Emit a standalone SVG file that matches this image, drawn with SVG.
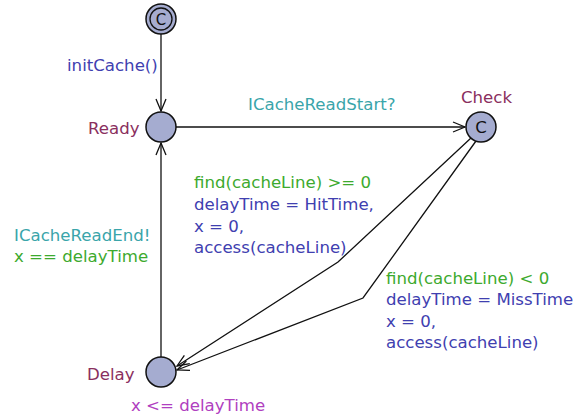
<svg xmlns="http://www.w3.org/2000/svg" width="581" height="415" viewBox="0 0 581 415">
<style>
text{font-family:"DejaVu Sans","Liberation Sans",sans-serif;font-size:16.6px}
.loc{fill:#a5acd0;stroke:#111;stroke-width:1.5}
.name{fill:#8a2f5e}
.guard{fill:#3daa2e}
.upd{fill:#4040b0}
.sync{fill:#3aa5aa}
.inv{fill:#b040c0}
.edge{fill:none;stroke:#111;stroke-width:1.3}
</style>
<defs>
<marker id="arr" viewBox="0 0 14 12" refX="13" refY="6" markerWidth="14" markerHeight="12" markerUnits="userSpaceOnUse" orient="auto">
<path d="M1,1 L13,6 L1,11" fill="none" stroke="#111" stroke-width="1.3"/>
</marker>
</defs>
<g id="connectors">
<line class="edge" x1="161" y1="34" x2="161" y2="111" marker-end="url(#arr)"/>
<line class="edge" x1="176" y1="127" x2="465" y2="127" marker-end="url(#arr)"/>
<line class="edge" x1="161" y1="357" x2="161" y2="143" marker-end="url(#arr)"/>
<polyline class="edge" points="471,138 338,262 177,366" marker-end="url(#arr)"/>
<polyline class="edge" points="476,141 363,298 177,370" marker-end="url(#arr)"/>
</g>
<g id="init">
<circle class="loc" cx="161" cy="19" r="15"/>
<circle cx="161" cy="19" r="11" fill="none" stroke="#111" stroke-width="1.3"/>
<text x="161" y="25" text-anchor="middle" fill="#111" style="font-size:15px">C</text>
</g>
<g id="ready">
<circle class="loc" cx="161" cy="127" r="15"/>
<text class="name" x="88" y="134">Ready</text>
</g>
<g id="check">
<circle class="loc" cx="481" cy="127" r="15"/>
<text x="481" y="133" text-anchor="middle" fill="#111">C</text>
<text class="name" x="461" y="103">Check</text>
</g>
<g id="delay">
<circle class="loc" cx="161" cy="372" r="15"/>
<text class="name" x="87" y="380">Delay</text>
<text class="inv" x="131" y="411">x &lt;= delayTime</text>
</g>
<g id="labels">
<text class="upd" x="67" y="71">initCache()</text>
<text class="sync" x="248" y="110">ICacheReadStart?</text>
<text class="guard" x="194" y="188">find(cacheLine) &gt;= 0</text>
<text class="upd" x="194" y="210">delayTime = HitTime,</text>
<text class="upd" x="194" y="232">x = 0,</text>
<text class="upd" x="194" y="253">access(cacheLine)</text>
<text class="sync" x="14" y="241">ICacheReadEnd!</text>
<text class="guard" x="14" y="262">x == delayTime</text>
<text class="guard" x="386" y="284">find(cacheLine) &lt; 0</text>
<text class="upd" x="386" y="305">delayTime = MissTime</text>
<text class="upd" x="386" y="327">x = 0,</text>
<text class="upd" x="386" y="348">access(cacheLine)</text>
</g>
</svg>
